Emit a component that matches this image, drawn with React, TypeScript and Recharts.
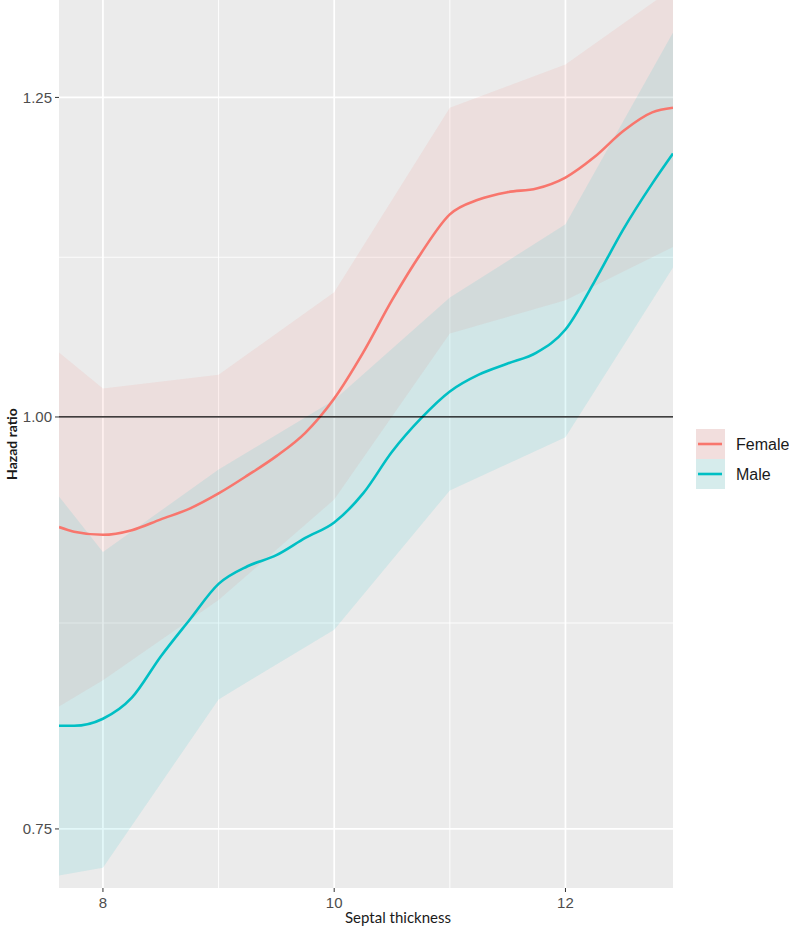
import { ComposedChart, Area, Line, XAxis, YAxis, CartesianGrid, ReferenceLine } from 'recharts'

// ribbon knots (confidence band edges are piecewise linear)
const ribbonX = [7.62, 8, 9, 10, 11, 12, 12.93]
const femaleLow = [0.817, 0.832, 0.88, 0.944, 1.06, 1.085, 1.126]
const femaleHigh = [1.046, 1.02, 1.03, 1.091, 1.241, 1.279, 1.349]
const maleLow = [0.726, 0.73, 0.821, 0.862, 0.95, 0.986, 1.11]
const maleHigh = [0.946, 0.91, 0.964, 1.012, 1.087, 1.144, 1.308]

// fitted hazard ratio curves
const curveX = [
  7.62, 7.75, 8, 8.25, 8.5, 8.75, 9, 9.25, 9.5, 9.75, 10, 10.25,
  10.5, 10.75, 11, 11.25, 11.5, 11.75, 12, 12.25, 12.5, 12.75, 12.93,
]
const femaleHr = [
  0.926, 0.923, 0.921, 0.924, 0.931, 0.938, 0.948, 0.96, 0.973, 0.989, 1.013, 1.046,
  1.085, 1.121, 1.152, 1.164, 1.17, 1.173, 1.182, 1.199, 1.221, 1.237, 1.241,
]
const maleHr = [
  0.806, 0.806, 0.81, 0.822, 0.846, 0.868, 0.89, 0.901, 0.908, 0.919, 0.929, 0.948,
  0.976, 0.999, 1.018, 1.03, 1.038, 1.046, 1.063, 1.099, 1.14, 1.177, 1.202,
]

const xTicks = [8, 10, 12]
const xMinor = [9, 11]
const yTicks = [0.75, 1, 1.25]
const yMinor = [0.866, 1.118]

const FEMALE = '#F8766D'
const MALE = '#00BFC4'

const femaleBand = ribbonX.map((x, i) => ({ x, range: [femaleLow[i], femaleHigh[i]] }))
const maleBand = ribbonX.map((x, i) => ({ x, range: [maleLow[i], maleHigh[i]] }))
const femaleLine = curveX.map((x, i) => ({ x, hr: femaleHr[i] }))
const maleLine = curveX.map((x, i) => ({ x, hr: maleHr[i] }))

const tickStyle = { fill: '#4D4D4D', fontSize: 15, fontFamily: 'Liberation Sans, Arial, sans-serif' }

export default function App() {
  return (
    <div style={{ position: 'absolute', left: 0, top: 0, width: 789, height: 929, background: '#fff' }}>
      <ComposedChart width={789} height={929} margin={{ top: 0, right: 116, bottom: 0, left: 0 }}>
        <CartesianGrid
          fill="#EBEBEB"
          stroke="#fff"
          strokeWidth={0.9}
          horizontalValues={yMinor}
          verticalValues={xMinor}
        />
        <CartesianGrid
          fill="none"
          stroke="#fff"
          strokeWidth={1.7}
          horizontalValues={yTicks}
          verticalValues={xTicks}
        />
        <XAxis
          type="number"
          dataKey="x"
          domain={[7.62, 12.93]}
          allowDataOverflow
          ticks={xTicks}
          interval={0}
          height={41}
          tickSize={4}
          tickMargin={5}
          axisLine={false}
          tickLine={{ stroke: '#333' }}
          tick={tickStyle}
          label={{
            content: () => (
              <text x={398} y={923} textAnchor="middle" fontSize={15} fill="#1A1A1A" fontFamily="Lato, sans-serif">
                Septal thickness
              </text>
            ),
          }}
        />
        <YAxis
          type="number"
          scale="log"
          domain={[0.7197, 1.338]}
          allowDataOverflow
          ticks={yTicks}
          interval={0}
          width={59}
          tickSize={4}
          tickMargin={3}
          axisLine={false}
          tickLine={{ stroke: '#333' }}
          tick={tickStyle}
          tickFormatter={(v: number) => v.toFixed(2)}
          label={{
            content: () => (
              <text
                x={11}
                y={444}
                transform="rotate(-90 11 444)"
                textAnchor="middle"
                dominantBaseline="central"
                fontSize={14}
                fontWeight="bold"
                fill="#1A1A1A"
                fontFamily="Lato, sans-serif"
              >
                Hazad ratio
              </text>
            ),
          }}
        />
        <Area data={femaleBand} dataKey="range" type="linear" stroke="none" fill={FEMALE} fillOpacity={0.11} isAnimationActive={false} />
        <Area data={maleBand} dataKey="range" type="linear" stroke="none" fill={MALE} fillOpacity={0.11} isAnimationActive={false} />
        <Line data={femaleLine} dataKey="hr" type="monotone" stroke={FEMALE} strokeWidth={2.6} dot={false} isAnimationActive={false} />
        <Line data={maleLine} dataKey="hr" type="monotone" stroke={MALE} strokeWidth={2.6} dot={false} isAnimationActive={false} />
        <ReferenceLine y={1} stroke="#000" strokeWidth={1.3} />
      </ComposedChart>
      <svg width={93} height={60} style={{ position: 'absolute', left: 696, top: 429 }}>
        <rect x={0} y={0} width={29} height={30} fill="#F2DEDD" />
        <line x1={2} x2={26} y1={15} y2={15} stroke={FEMALE} strokeWidth={2.6} />
        <rect x={0} y={30} width={29} height={30} fill="#D6ECEC" />
        <line x1={2} x2={26} y1={45} y2={45} stroke={MALE} strokeWidth={2.6} />
        <text x={40} y={15} dominantBaseline="central" fontSize={16} fill="#1A1A1A" fontFamily="Liberation Sans, Arial, sans-serif">
          Female
        </text>
        <text x={40} y={45} dominantBaseline="central" fontSize={16} fill="#1A1A1A" fontFamily="Liberation Sans, Arial, sans-serif">
          Male
        </text>
      </svg>
    </div>
  )
}
